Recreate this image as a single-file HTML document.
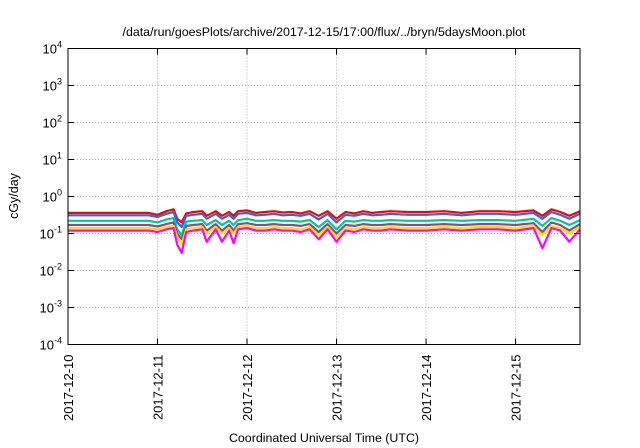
<!DOCTYPE html>
<html><head><meta charset="utf-8"><style>
html,body{margin:0;padding:0;background:#fff;width:640px;height:448px;overflow:hidden}
text{font-family:"Liberation Sans",sans-serif;fill:#000}
</style></head><body>
<svg id="chart" width="640" height="448" viewBox="0 0 640 448" xmlns="http://www.w3.org/2000/svg">
<text x="324" y="36" font-size="12.4" text-anchor="middle">/data/run/goesPlots/archive/2017-12-15/17:00/flux/../bryn/5daysMoon.plot</text>
<g id="grid"></g>
<g id="series"></g>
<rect x="68" y="48.5" width="512" height="296" fill="none" stroke="#000" stroke-width="1"/>
<g id="axes"></g>
<text transform="translate(18,196) rotate(-90)" font-size="12.5" text-anchor="middle">cGy/day</text>
<text x="324" y="442" font-size="12.4" text-anchor="middle">Coordinated Universal Time (UTC)</text>
</svg>
<script>
const xTickLabels=["2017-12-10","2017-12-11","2017-12-12","2017-12-13","2017-12-14","2017-12-15"];
const yTickExps=[-4,-3,-2,-1,0,1,2,3,4];
const times=[0,0.9,1.0,1.1,1.18,1.22,1.27,1.32,1.4,1.5,1.55,1.65,1.72,1.8,1.85,1.9,2.0,2.1,2.2,2.3,2.4,2.5,2.6,2.7,2.8,2.9,3.0,3.1,3.2,3.3,3.4,3.5,3.6,3.8,4.0,4.2,4.4,4.6,4.8,5.0,5.2,5.3,5.4,5.5,5.6,5.72];
const red=[0.36,0.36,0.32,0.4,0.45,0.25,0.2,0.35,0.38,0.4,0.3,0.4,0.3,0.38,0.3,0.4,0.42,0.36,0.38,0.4,0.37,0.38,0.35,0.4,0.3,0.4,0.25,0.38,0.35,0.4,0.36,0.38,0.4,0.38,0.38,0.4,0.36,0.4,0.4,0.38,0.42,0.3,0.45,0.38,0.3,0.4];
const blue=[0.31,0.31,0.28,0.34,0.38,0.2,0.15,0.3,0.32,0.34,0.25,0.34,0.25,0.32,0.25,0.34,0.36,0.31,0.32,0.34,0.31,0.32,0.3,0.34,0.24,0.34,0.2,0.32,0.3,0.34,0.31,0.32,0.34,0.32,0.32,0.34,0.31,0.34,0.34,0.32,0.36,0.25,0.38,0.32,0.25,0.34];
const green=[0.22,0.22,0.2,0.24,0.26,0.13,0.09,0.21,0.22,0.23,0.17,0.23,0.17,0.22,0.17,0.23,0.25,0.22,0.22,0.23,0.22,0.22,0.21,0.23,0.15,0.23,0.13,0.22,0.21,0.23,0.22,0.22,0.23,0.22,0.22,0.23,0.22,0.23,0.23,0.22,0.25,0.16,0.26,0.22,0.17,0.23];
const brown=[0.17,0.17,0.155,0.18,0.2,0.1,0.07,0.16,0.17,0.18,0.12,0.18,0.12,0.17,0.12,0.18,0.19,0.17,0.17,0.18,0.17,0.17,0.16,0.18,0.11,0.18,0.1,0.17,0.16,0.18,0.17,0.17,0.18,0.17,0.17,0.18,0.17,0.18,0.18,0.17,0.19,0.11,0.2,0.17,0.12,0.18];
const yellow=[0.14,0.14,0.13,0.15,0.16,0.08,0.05,0.13,0.14,0.15,0.1,0.15,0.1,0.14,0.1,0.15,0.16,0.14,0.14,0.15,0.14,0.14,0.13,0.15,0.09,0.15,0.08,0.14,0.13,0.15,0.14,0.14,0.15,0.14,0.14,0.15,0.14,0.15,0.15,0.14,0.16,0.09,0.16,0.14,0.1,0.15];
const magenta=[0.12,0.12,0.11,0.13,0.14,0.05,0.03,0.11,0.12,0.13,0.06,0.13,0.06,0.12,0.055,0.13,0.14,0.12,0.12,0.13,0.12,0.12,0.11,0.13,0.07,0.13,0.06,0.12,0.11,0.13,0.12,0.12,0.13,0.12,0.12,0.13,0.12,0.13,0.13,0.12,0.14,0.04,0.14,0.12,0.06,0.13];

const NS="http://www.w3.org/2000/svg";
const L=68,R=580,T=48.5,B=344.5,X0=0,X1=5.72;
const xs=d=>L+(d-X0)/(X1-X0)*(R-L);
const ys=v=>B-(Math.log10(v)+4)/8*(B-T);
function mk(tag,attrs,parent){const e=document.createElementNS(NS,tag);for(const k in attrs)e.setAttribute(k,attrs[k]);parent.appendChild(e);return e;}
const grid=document.getElementById('grid'),axes=document.getElementById('axes'),ser=document.getElementById('series');
yTickExps.forEach((p)=>{
  const y=ys(Math.pow(10,p));
  if(p>-4&&p<4){const g=mk('line',{x1:L,x2:R,y1:y,y2:y,stroke:'#aaa','stroke-dasharray':'1,2'},grid);
  
  }
  const t1=mk('line',{x1:L,x2:L+6,y1:y,y2:y,stroke:'#000'},axes);
  
  
  const t2=mk('line',{x1:R-6,x2:R,y1:y,y2:y,stroke:'#000'},axes);
  
  
  const tx=mk('text',{x:L-6,y:y+5,'font-size':'13','text-anchor':'end'},axes);
  
  
  tx.appendChild(document.createTextNode('10'));
  const sp=mk('tspan',{dy:'-6','font-size':'9'},tx);sp.textContent=String(p);
});
xTickLabels.forEach((lab,i)=>{
  const x=xs(i);
  if(i>0){const g=mk('line',{x1:x,x2:x,y1:T,y2:B,stroke:'#aaa','stroke-dasharray':'1,2'},grid);
  
  }
  const t1=mk('line',{x1:x,x2:x,y1:B-6,y2:B,stroke:'#000'},axes);
  
  
  const t2=mk('line',{x1:x,x2:x,y1:T,y2:T+6,stroke:'#000'},axes);
  
  
  const tx=mk('text',{transform:`translate(${x+5},${B+10}) rotate(-90)`,'font-size':'13','text-anchor':'end'},axes);
  
  
  tx.textContent=lab;
});
const seriesList=[[red,'#ff0000','series-red'],[blue,'#1a6cff','series-blue'],[green,'#00c896','series-green'],[brown,'#944a78','series-purple'],[yellow,'#ffe000','series-yellow'],[magenta,'#ff00ff','series-magenta']];
seriesList.forEach(([vals,col,name])=>{
  const d=vals.map((v,i)=>(i?'L':'M')+xs(times[i]).toFixed(1)+','+ys(v).toFixed(1)).join(' ');
  const p=mk('path',{d:d,fill:'none',stroke:col,'stroke-width':'2.2','stroke-linejoin':'round'},ser);
  
  
});
</script>
</body></html>
